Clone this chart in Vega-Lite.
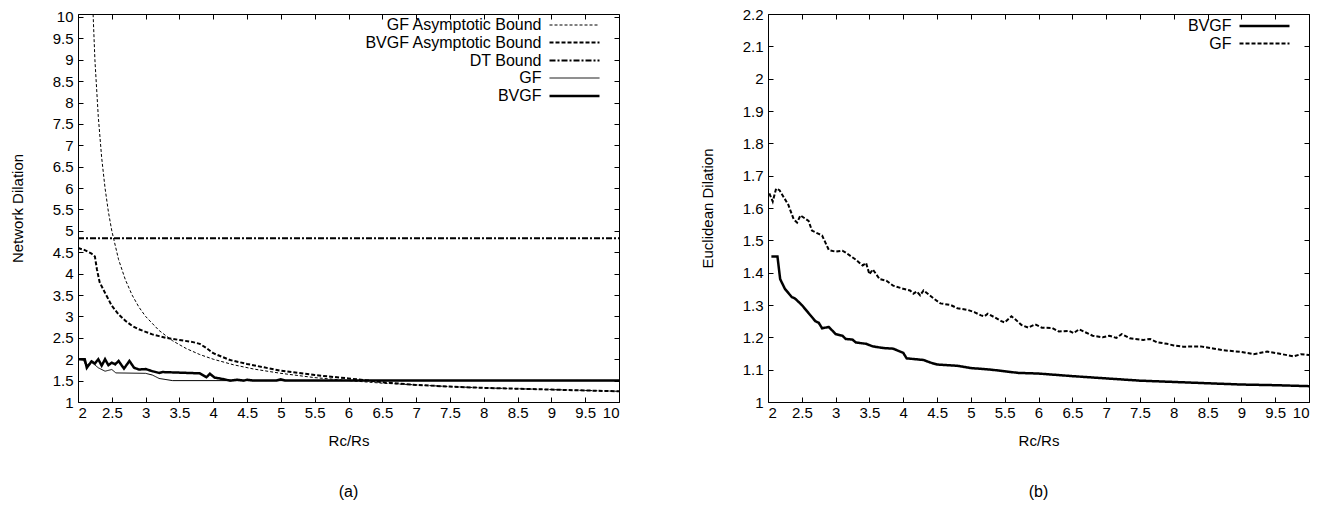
{
  "$schema": "https://vega.github.io/schema/vega-lite/v6.json",
  "padding": {"left": 9, "top": 6, "right": 5, "bottom": 5},
  "config": {
    "font": "Liberation Sans",
    "view": {"stroke": "black", "strokeWidth": 1},
    "axis": {"domain": false, "grid": false, "tickColor": "black", "tickSize": -5, "tickWidth": 1, "labelFontSize": 15, "labelColor": "black", "titleFontSize": 15, "titleFontWeight": "normal", "titleColor": "black", "format": "~g"},
    "axisX": {"labelPadding": 8, "titlePadding": 13, "labelFontSize": 15, "titleFontSize": 15},
    "axisY": {"labelPadding": 10, "titlePadding": 27, "labelFontSize": 15, "titleFontSize": 15},
    "legend": {"orient": "none", "padding": 0, "title": null, "labelFontSize": 16, "labelColor": "black", "labelAlign": "right", "labelOffset": -43, "labelLimit": 0, "symbolType": "M-2.94,0H2.94", "symbolSize": 289, "symbolStrokeColor": "black", "symbolFillColor": "transparent", "rowPadding": 0},
    "title": {"fontSize": 16, "fontWeight": "normal", "color": "black", "orient": "bottom", "offset": 36}
  },
  "spacing": 79,
  "datasets": {
    "left": [
      {"s": "GF Asymptotic Bound", "x": 2.2, "y": 11.0},
      {"s": "GF Asymptotic Bound", "x": 2.25, "y": 9.0},
      {"s": "GF Asymptotic Bound", "x": 2.3, "y": 7.67},
      {"s": "GF Asymptotic Bound", "x": 2.35, "y": 6.71},
      {"s": "GF Asymptotic Bound", "x": 2.4, "y": 6.0},
      {"s": "GF Asymptotic Bound", "x": 2.45, "y": 5.44},
      {"s": "GF Asymptotic Bound", "x": 2.5, "y": 5.0},
      {"s": "GF Asymptotic Bound", "x": 2.6, "y": 4.33},
      {"s": "GF Asymptotic Bound", "x": 2.7, "y": 3.86},
      {"s": "GF Asymptotic Bound", "x": 2.8, "y": 3.5},
      {"s": "GF Asymptotic Bound", "x": 2.9, "y": 3.22},
      {"s": "GF Asymptotic Bound", "x": 3.0, "y": 3.0},
      {"s": "GF Asymptotic Bound", "x": 3.2, "y": 2.67},
      {"s": "GF Asymptotic Bound", "x": 3.4, "y": 2.43},
      {"s": "GF Asymptotic Bound", "x": 3.6, "y": 2.25},
      {"s": "GF Asymptotic Bound", "x": 3.8, "y": 2.11},
      {"s": "GF Asymptotic Bound", "x": 4.0, "y": 2.0},
      {"s": "GF Asymptotic Bound", "x": 4.3, "y": 1.87},
      {"s": "GF Asymptotic Bound", "x": 4.6, "y": 1.77},
      {"s": "GF Asymptotic Bound", "x": 5.0, "y": 1.67},
      {"s": "GF Asymptotic Bound", "x": 5.5, "y": 1.57},
      {"s": "GF Asymptotic Bound", "x": 6.0, "y": 1.5},
      {"s": "GF Asymptotic Bound", "x": 6.5, "y": 1.44},
      {"s": "GF Asymptotic Bound", "x": 7.0, "y": 1.4},
      {"s": "GF Asymptotic Bound", "x": 7.5, "y": 1.36},
      {"s": "GF Asymptotic Bound", "x": 8.0, "y": 1.33},
      {"s": "GF Asymptotic Bound", "x": 8.5, "y": 1.31},
      {"s": "GF Asymptotic Bound", "x": 9.0, "y": 1.29},
      {"s": "GF Asymptotic Bound", "x": 9.5, "y": 1.27},
      {"s": "GF Asymptotic Bound", "x": 10.0, "y": 1.25},
      {"s": "BVGF Asymptotic Bound", "x": 2.0, "y": 4.6},
      {"s": "BVGF Asymptotic Bound", "x": 2.1, "y": 4.55},
      {"s": "BVGF Asymptotic Bound", "x": 2.2, "y": 4.47},
      {"s": "BVGF Asymptotic Bound", "x": 2.25, "y": 4.4},
      {"s": "BVGF Asymptotic Bound", "x": 2.28, "y": 4.1},
      {"s": "BVGF Asymptotic Bound", "x": 2.32, "y": 3.8},
      {"s": "BVGF Asymptotic Bound", "x": 2.4, "y": 3.55},
      {"s": "BVGF Asymptotic Bound", "x": 2.5, "y": 3.25},
      {"s": "BVGF Asymptotic Bound", "x": 2.6, "y": 3.05},
      {"s": "BVGF Asymptotic Bound", "x": 2.7, "y": 2.9},
      {"s": "BVGF Asymptotic Bound", "x": 2.8, "y": 2.78},
      {"s": "BVGF Asymptotic Bound", "x": 2.9, "y": 2.7},
      {"s": "BVGF Asymptotic Bound", "x": 3.0, "y": 2.64},
      {"s": "BVGF Asymptotic Bound", "x": 3.1, "y": 2.58},
      {"s": "BVGF Asymptotic Bound", "x": 3.2, "y": 2.54},
      {"s": "BVGF Asymptotic Bound", "x": 3.3, "y": 2.5},
      {"s": "BVGF Asymptotic Bound", "x": 3.5, "y": 2.45},
      {"s": "BVGF Asymptotic Bound", "x": 3.7, "y": 2.4},
      {"s": "BVGF Asymptotic Bound", "x": 3.8, "y": 2.36},
      {"s": "BVGF Asymptotic Bound", "x": 3.9, "y": 2.26},
      {"s": "BVGF Asymptotic Bound", "x": 4.0, "y": 2.14},
      {"s": "BVGF Asymptotic Bound", "x": 4.25, "y": 1.98},
      {"s": "BVGF Asymptotic Bound", "x": 4.5, "y": 1.89},
      {"s": "BVGF Asymptotic Bound", "x": 4.75, "y": 1.81},
      {"s": "BVGF Asymptotic Bound", "x": 5.0, "y": 1.73},
      {"s": "BVGF Asymptotic Bound", "x": 5.5, "y": 1.63},
      {"s": "BVGF Asymptotic Bound", "x": 6.0, "y": 1.55},
      {"s": "BVGF Asymptotic Bound", "x": 6.3, "y": 1.5},
      {"s": "BVGF Asymptotic Bound", "x": 6.5, "y": 1.46},
      {"s": "BVGF Asymptotic Bound", "x": 7.0, "y": 1.4},
      {"s": "BVGF Asymptotic Bound", "x": 7.5, "y": 1.36},
      {"s": "BVGF Asymptotic Bound", "x": 8.0, "y": 1.33},
      {"s": "BVGF Asymptotic Bound", "x": 8.5, "y": 1.31},
      {"s": "BVGF Asymptotic Bound", "x": 9.0, "y": 1.29},
      {"s": "BVGF Asymptotic Bound", "x": 9.5, "y": 1.27},
      {"s": "BVGF Asymptotic Bound", "x": 10.0, "y": 1.25},
      {"s": "DT Bound", "x": 2.0, "y": 4.83},
      {"s": "DT Bound", "x": 10.0, "y": 4.83},
      {"s": "GF", "x": 2.0, "y": 2.0},
      {"s": "GF", "x": 2.08, "y": 1.98},
      {"s": "GF", "x": 2.12, "y": 1.85},
      {"s": "GF", "x": 2.2, "y": 1.93},
      {"s": "GF", "x": 2.3, "y": 1.8},
      {"s": "GF", "x": 2.4, "y": 1.72},
      {"s": "GF", "x": 2.5, "y": 1.76},
      {"s": "GF", "x": 2.56, "y": 1.68},
      {"s": "GF", "x": 3.0, "y": 1.67},
      {"s": "GF", "x": 3.1, "y": 1.63},
      {"s": "GF", "x": 3.2, "y": 1.55},
      {"s": "GF", "x": 3.4, "y": 1.5},
      {"s": "GF", "x": 10.0, "y": 1.5},
      {"s": "BVGF", "x": 2.0, "y": 2.0},
      {"s": "BVGF", "x": 2.1, "y": 2.0},
      {"s": "BVGF", "x": 2.13, "y": 1.8},
      {"s": "BVGF", "x": 2.2, "y": 1.95},
      {"s": "BVGF", "x": 2.25, "y": 1.9},
      {"s": "BVGF", "x": 2.3, "y": 2.0},
      {"s": "BVGF", "x": 2.35, "y": 1.85},
      {"s": "BVGF", "x": 2.4, "y": 2.0},
      {"s": "BVGF", "x": 2.45, "y": 1.86},
      {"s": "BVGF", "x": 2.5, "y": 1.92},
      {"s": "BVGF", "x": 2.55, "y": 1.88},
      {"s": "BVGF", "x": 2.6, "y": 1.96},
      {"s": "BVGF", "x": 2.68, "y": 1.78},
      {"s": "BVGF", "x": 2.76, "y": 1.96},
      {"s": "BVGF", "x": 2.83, "y": 1.8},
      {"s": "BVGF", "x": 2.9, "y": 1.76},
      {"s": "BVGF", "x": 3.0, "y": 1.77},
      {"s": "BVGF", "x": 3.1, "y": 1.72},
      {"s": "BVGF", "x": 3.2, "y": 1.68},
      {"s": "BVGF", "x": 3.25, "y": 1.7},
      {"s": "BVGF", "x": 3.8, "y": 1.67},
      {"s": "BVGF", "x": 3.9, "y": 1.58},
      {"s": "BVGF", "x": 3.95, "y": 1.66},
      {"s": "BVGF", "x": 4.02, "y": 1.57},
      {"s": "BVGF", "x": 4.1, "y": 1.55},
      {"s": "BVGF", "x": 4.25, "y": 1.5},
      {"s": "BVGF", "x": 4.35, "y": 1.52},
      {"s": "BVGF", "x": 4.45, "y": 1.5},
      {"s": "BVGF", "x": 4.5, "y": 1.52},
      {"s": "BVGF", "x": 4.6, "y": 1.5},
      {"s": "BVGF", "x": 4.93, "y": 1.5},
      {"s": "BVGF", "x": 5.0, "y": 1.53},
      {"s": "BVGF", "x": 5.07, "y": 1.5},
      {"s": "BVGF", "x": 10.0, "y": 1.5}
    ],
    "right": [
      {"s": "BVGF", "x": 2.05, "y": 1.45},
      {"s": "BVGF", "x": 2.14, "y": 1.45},
      {"s": "BVGF", "x": 2.18, "y": 1.38},
      {"s": "BVGF", "x": 2.25, "y": 1.35},
      {"s": "BVGF", "x": 2.35, "y": 1.325},
      {"s": "BVGF", "x": 2.4, "y": 1.32},
      {"s": "BVGF", "x": 2.5, "y": 1.3},
      {"s": "BVGF", "x": 2.6, "y": 1.275},
      {"s": "BVGF", "x": 2.7, "y": 1.25},
      {"s": "BVGF", "x": 2.75, "y": 1.245},
      {"s": "BVGF", "x": 2.8, "y": 1.228},
      {"s": "BVGF", "x": 2.9, "y": 1.232},
      {"s": "BVGF", "x": 3.0, "y": 1.21},
      {"s": "BVGF", "x": 3.1, "y": 1.205},
      {"s": "BVGF", "x": 3.15, "y": 1.195},
      {"s": "BVGF", "x": 3.25, "y": 1.193},
      {"s": "BVGF", "x": 3.3, "y": 1.184},
      {"s": "BVGF", "x": 3.45, "y": 1.18},
      {"s": "BVGF", "x": 3.55, "y": 1.172},
      {"s": "BVGF", "x": 3.7, "y": 1.167},
      {"s": "BVGF", "x": 3.85, "y": 1.165},
      {"s": "BVGF", "x": 4.0, "y": 1.152},
      {"s": "BVGF", "x": 4.05, "y": 1.135},
      {"s": "BVGF", "x": 4.3, "y": 1.13},
      {"s": "BVGF", "x": 4.4, "y": 1.122},
      {"s": "BVGF", "x": 4.5, "y": 1.116},
      {"s": "BVGF", "x": 4.8, "y": 1.112},
      {"s": "BVGF", "x": 5.0, "y": 1.105},
      {"s": "BVGF", "x": 5.3, "y": 1.1},
      {"s": "BVGF", "x": 5.5, "y": 1.095},
      {"s": "BVGF", "x": 5.7, "y": 1.09},
      {"s": "BVGF", "x": 6.0, "y": 1.088},
      {"s": "BVGF", "x": 6.5, "y": 1.08},
      {"s": "BVGF", "x": 7.0, "y": 1.073},
      {"s": "BVGF", "x": 7.5, "y": 1.066},
      {"s": "BVGF", "x": 8.0, "y": 1.062},
      {"s": "BVGF", "x": 8.5, "y": 1.058},
      {"s": "BVGF", "x": 9.0, "y": 1.054},
      {"s": "BVGF", "x": 9.5, "y": 1.052},
      {"s": "BVGF", "x": 10.0, "y": 1.049},
      {"s": "GF", "x": 2.02, "y": 1.645},
      {"s": "GF", "x": 2.07, "y": 1.62},
      {"s": "GF", "x": 2.12, "y": 1.66},
      {"s": "GF", "x": 2.17, "y": 1.655},
      {"s": "GF", "x": 2.3, "y": 1.61},
      {"s": "GF", "x": 2.38, "y": 1.565},
      {"s": "GF", "x": 2.43, "y": 1.555},
      {"s": "GF", "x": 2.48, "y": 1.577},
      {"s": "GF", "x": 2.6, "y": 1.56},
      {"s": "GF", "x": 2.65, "y": 1.53},
      {"s": "GF", "x": 2.75, "y": 1.52},
      {"s": "GF", "x": 2.8, "y": 1.515},
      {"s": "GF", "x": 2.9, "y": 1.47},
      {"s": "GF", "x": 3.0, "y": 1.465},
      {"s": "GF", "x": 3.1, "y": 1.468},
      {"s": "GF", "x": 3.15, "y": 1.462},
      {"s": "GF", "x": 3.3, "y": 1.44},
      {"s": "GF", "x": 3.4, "y": 1.422},
      {"s": "GF", "x": 3.45, "y": 1.43},
      {"s": "GF", "x": 3.5, "y": 1.395},
      {"s": "GF", "x": 3.55, "y": 1.41},
      {"s": "GF", "x": 3.65, "y": 1.38},
      {"s": "GF", "x": 3.75, "y": 1.375},
      {"s": "GF", "x": 3.85, "y": 1.36},
      {"s": "GF", "x": 4.0, "y": 1.35},
      {"s": "GF", "x": 4.1, "y": 1.345},
      {"s": "GF", "x": 4.15, "y": 1.335},
      {"s": "GF", "x": 4.2, "y": 1.342},
      {"s": "GF", "x": 4.25, "y": 1.33},
      {"s": "GF", "x": 4.3, "y": 1.345},
      {"s": "GF", "x": 4.45, "y": 1.32},
      {"s": "GF", "x": 4.55, "y": 1.305},
      {"s": "GF", "x": 4.7, "y": 1.3},
      {"s": "GF", "x": 4.8, "y": 1.29},
      {"s": "GF", "x": 4.95, "y": 1.285},
      {"s": "GF", "x": 5.05, "y": 1.278},
      {"s": "GF", "x": 5.15, "y": 1.268},
      {"s": "GF", "x": 5.2, "y": 1.265},
      {"s": "GF", "x": 5.25, "y": 1.273},
      {"s": "GF", "x": 5.35, "y": 1.262},
      {"s": "GF", "x": 5.45, "y": 1.25},
      {"s": "GF", "x": 5.5, "y": 1.246},
      {"s": "GF", "x": 5.6, "y": 1.265},
      {"s": "GF", "x": 5.66, "y": 1.255},
      {"s": "GF", "x": 5.75, "y": 1.238},
      {"s": "GF", "x": 5.85, "y": 1.23},
      {"s": "GF", "x": 5.95, "y": 1.24},
      {"s": "GF", "x": 6.05, "y": 1.23},
      {"s": "GF", "x": 6.2, "y": 1.229},
      {"s": "GF", "x": 6.3, "y": 1.218},
      {"s": "GF", "x": 6.45, "y": 1.22},
      {"s": "GF", "x": 6.52, "y": 1.213},
      {"s": "GF", "x": 6.6, "y": 1.225},
      {"s": "GF", "x": 6.7, "y": 1.215},
      {"s": "GF", "x": 6.8, "y": 1.205},
      {"s": "GF", "x": 6.95, "y": 1.2},
      {"s": "GF", "x": 7.05, "y": 1.205},
      {"s": "GF", "x": 7.15, "y": 1.198},
      {"s": "GF", "x": 7.23, "y": 1.21},
      {"s": "GF", "x": 7.35, "y": 1.197},
      {"s": "GF", "x": 7.55, "y": 1.192},
      {"s": "GF", "x": 7.65, "y": 1.195},
      {"s": "GF", "x": 7.75, "y": 1.185},
      {"s": "GF", "x": 7.9, "y": 1.18},
      {"s": "GF", "x": 8.0, "y": 1.175},
      {"s": "GF", "x": 8.14, "y": 1.171},
      {"s": "GF", "x": 8.4, "y": 1.172},
      {"s": "GF", "x": 8.6, "y": 1.165},
      {"s": "GF", "x": 8.73, "y": 1.16},
      {"s": "GF", "x": 9.0, "y": 1.155},
      {"s": "GF", "x": 9.18, "y": 1.148},
      {"s": "GF", "x": 9.38, "y": 1.156},
      {"s": "GF", "x": 9.55, "y": 1.15},
      {"s": "GF", "x": 9.77, "y": 1.141},
      {"s": "GF", "x": 9.88, "y": 1.148},
      {"s": "GF", "x": 10.0, "y": 1.145}
    ]
  },
  "hconcat": [
    {
      "width": 541,
      "height": 388,
      "title": "(a)",
      "data": {"name": "left"},
      "layer": [
        {
          "mark": {"type": "line", "clip": true, "color": "black"},
          "encoding": {
            "x": {"field": "x", "type": "quantitative", "scale": {"domain": [2, 10], "nice": false}, "axis": {"values": [2, 2.5, 3, 3.5, 4, 4.5, 5, 5.5, 6, 6.5, 7, 7.5, 8, 8.5, 9, 9.5, 10], "title": "Rc/Rs"}},
            "y": {"field": "y", "type": "quantitative", "scale": {"domain": [1, 10.07], "nice": false, "zero": false}, "axis": {"values": [1, 1.5, 2, 2.5, 3, 3.5, 4, 4.5, 5, 5.5, 6, 6.5, 7, 7.5, 8, 8.5, 9, 9.5, 10], "title": "Network Dilation"}},
            "strokeDash": {"field": "s", "type": "nominal", "scale": {"domain": ["GF Asymptotic Bound", "BVGF Asymptotic Bound", "DT Bound", "GF", "BVGF"], "range": [[3, 2], [4, 2], [6, 2, 2, 2], [1, 0], [1, 0]]}, "legend": {"legendX": 486.5, "legendY": 2}},
            "strokeWidth": {"field": "s", "type": "nominal", "scale": {"type": "ordinal", "domain": ["GF Asymptotic Bound", "BVGF Asymptotic Bound", "DT Bound", "GF", "BVGF"], "range": [1, 2, 2, 1, 2.5]}, "legend": {"legendX": 486.5, "legendY": 2}}
          }
        },
        {
          "mark": {"type": "point", "opacity": 0, "clip": true},
          "encoding": {
            "x": {"field": "x", "type": "quantitative", "scale": {"domain": [2, 10], "nice": false}, "axis": {"orient": "top", "labels": false, "title": null, "values": [2, 2.5, 3, 3.5, 4, 4.5, 5, 5.5, 6, 6.5, 7, 7.5, 8, 8.5, 9, 9.5, 10]}},
            "y": {"field": "y", "type": "quantitative", "scale": {"domain": [1, 10.07], "nice": false, "zero": false}, "axis": {"orient": "right", "labels": false, "title": null, "values": [1, 1.5, 2, 2.5, 3, 3.5, 4, 4.5, 5, 5.5, 6, 6.5, 7, 7.5, 8, 8.5, 9, 9.5, 10]}}
          }
        }
      ],
      "resolve": {"axis": {"x": "independent", "y": "independent"}}
    },
    {
      "width": 541,
      "height": 388,
      "title": "(b)",
      "data": {"name": "right"},
      "layer": [
        {
          "mark": {"type": "line", "clip": true, "color": "black"},
          "encoding": {
            "x": {"field": "x", "type": "quantitative", "scale": {"domain": [2, 10], "nice": false}, "axis": {"values": [2, 2.5, 3, 3.5, 4, 4.5, 5, 5.5, 6, 6.5, 7, 7.5, 8, 8.5, 9, 9.5, 10], "title": "Rc/Rs"}},
            "y": {"field": "y", "type": "quantitative", "scale": {"domain": [1, 2.2], "nice": false, "zero": false}, "axis": {"values": [1, 1.1, 1.2, 1.3, 1.4, 1.5, 1.6, 1.7, 1.8, 1.9, 2, 2.1, 2.2], "title": "Euclidean Dilation"}},
            "strokeDash": {"field": "s", "type": "nominal", "scale": {"domain": ["BVGF", "GF"], "range": [[1, 0], [4, 2]]}, "legend": {"legendX": 486.5, "legendY": 2}},
            "strokeWidth": {"field": "s", "type": "nominal", "scale": {"type": "ordinal", "domain": ["BVGF", "GF"], "range": [2.5, 2]}, "legend": {"legendX": 486.5, "legendY": 2}}
          }
        },
        {
          "mark": {"type": "point", "opacity": 0, "clip": true},
          "encoding": {
            "x": {"field": "x", "type": "quantitative", "scale": {"domain": [2, 10], "nice": false}, "axis": {"orient": "top", "labels": false, "title": null, "values": [2, 2.5, 3, 3.5, 4, 4.5, 5, 5.5, 6, 6.5, 7, 7.5, 8, 8.5, 9, 9.5, 10]}},
            "y": {"field": "y", "type": "quantitative", "scale": {"domain": [1, 2.2], "nice": false, "zero": false}, "axis": {"orient": "right", "labels": false, "title": null, "values": [1, 1.1, 1.2, 1.3, 1.4, 1.5, 1.6, 1.7, 1.8, 1.9, 2, 2.1, 2.2]}}
          }
        }
      ],
      "resolve": {"axis": {"x": "independent", "y": "independent"}}
    }
  ],
  "resolve": {"scale": {"strokeDash": "independent", "strokeWidth": "independent"}, "legend": {"strokeDash": "independent", "strokeWidth": "independent"}}
}
